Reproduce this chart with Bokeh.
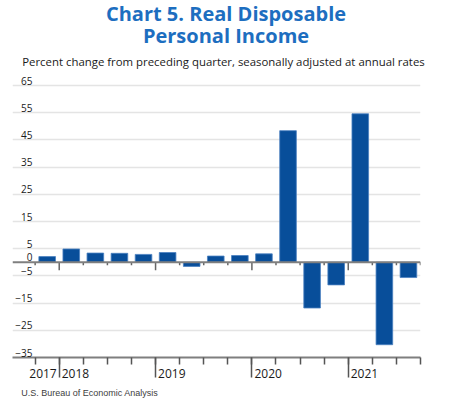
from bokeh.plotting import figure
from bokeh.models import Range1d, FixedTicker, ColumnDataSource, Grid, Span
from bokeh.embed import file_html
from bokeh.resources import INLINE
from bokeh.core.properties import value

# ---- data ----
quarters = ["2017 Q4",
            "2018 Q1", "2018 Q2", "2018 Q3", "2018 Q4",
            "2019 Q1", "2019 Q2", "2019 Q3", "2019 Q4",
            "2020 Q1", "2020 Q2", "2020 Q3", "2020 Q4",
            "2021 Q1", "2021 Q2", "2021 Q3"]
values = [2.1, 4.9, 3.4, 3.3, 2.9, 3.6, -1.5, 2.3, 2.5, 3.1,
          48.4, -16.8, -8.3, 54.6, -30.3, -5.6]
years = ["2017", "2018", "2019", "2020", "2021"]
quarters_in_year = [1, 4, 4, 4, 3]
y_ticks = [65, 55, 45, 35, 25, 15, 5, 0, -5, -15, -25, -35]
y_tick_labels = ["65", "55", "45", "35", "25", "15", "5", "0",
                 "\u22125", "\u221215", "\u221225", "\u221235"]
grid_ticks = [65, 55, 45, 35, 25, 15, 5, -5, -15, -25]
title_lines = ["Chart 5. Real Disposable", "Personal Income"]
subtitle = "Percent change from preceding quarter, seasonally adjusted at annual rates"
source_note = "U.S. Bureau of Economic Analysis"

# ---- derived positions ----
n = len(quarters)
bar_x = [i + 0.5 for i in range(n)]
starts = [sum(quarters_in_year[:k]) for k in range(len(years))]
boundaries = list(range(n + 1))
major_bounds = starts[1:]

X0, X1 = -0.94, n
Y0, Y1 = -35, 68.68

p = figure(width=451, height=400, x_range=Range1d(X0, X1), y_range=Range1d(Y0, Y1),
           output_backend="svg", toolbar_location=None, y_axis_location=None,
           min_border_left=12, min_border_right=31, min_border_top=75, min_border_bottom=43)
p.outline_line_color = None
p.grid.visible = False
p.background_fill_color = "white"
p.border_fill_color = "white"

grid = Grid(dimension=1, ticker=FixedTicker(ticks=grid_ticks),
            grid_line_color="#e4e4e4", grid_line_width=1.5)
p.add_layout(grid, "center")

src = ColumnDataSource(dict(x=bar_x, top=values, q=quarters))
p.vbar(x="x", top="top", bottom=0, width=0.69, source=src,
       fill_color="#084E9A", line_color="#4a80c0", line_width=0.8)

p.add_layout(Span(location=0, dimension="width", line_color="#7f7f7f", line_width=2))

# ticks on zero line
tick_len = [2.94 if b in major_bounds else 1.1 for b in boundaries]
p.segment(x0=boundaries, y0=[0] * len(boundaries), x1=boundaries,
          y1=[-t for t in tick_len], line_color="#666666", line_width=1.5)

# bottom axis
ax = p.xaxis[0]
ax.ticker = FixedTicker(ticks=major_bounds, minor_ticks=boundaries)
ax.major_tick_in = 0
ax.major_tick_out = 20
ax.minor_tick_in = 0
ax.minor_tick_out = 7
ax.axis_line_color = "#7f7f7f"
ax.axis_line_width = 2
ax.major_tick_line_color = "#555555"
ax.major_tick_line_width = 1.5
ax.minor_tick_line_color = "#555555"
ax.minor_tick_line_width = 1.5
ax.major_label_overrides = {b: "" for b in major_bounds}
ax.major_label_standoff = 0
ax.major_label_text_font_size = "8px"

# y labels
ysrc = ColumnDataSource(dict(x=[X0] * len(y_ticks), y=y_ticks, t=y_tick_labels))
p.text(x="x", y="y", text="t", source=ysrc, x_offset=20, y_offset=-5,
       text_align="right", text_baseline="alphabetic", text_font=value("Open Sans"),
       text_font_size="10px", text_color="#1a1a1a", level="overlay")

# year labels
yr_x = [starts[1]] + starts[1:]
yr_align = ["right"] + ["left"] * (len(years) - 1)
yr_off = [-2.5] + [2.5] * (len(years) - 1)
yrsrc = ColumnDataSource(dict(x=yr_x, y=[Y0] * len(years), t=years, a=yr_align, o=yr_off))
p.text(x="x", y="y", text="t", source=yrsrc, x_offset="o", y_offset=15.8,
       text_align="a", text_baseline="alphabetic", text_font=value("Open Sans"),
       text_font_size="12px", text_color="#1a1a1a", level="overlay")

# title & subtitle & source
tsrc = ColumnDataSource(dict(x=[X0, X0], y=[Y1, Y1], t=title_lines, o=[-62.0, -40.5]))
p.text(x="x", y="y", text="t", source=tsrc, x_offset=213.5, y_offset="o",
       text_align="center", text_baseline="alphabetic", text_font=value("Open Sans"),
       text_font_style="bold", text_font_size="20px", text_color="#1D6EC0", level="overlay")

p.text(x=[X0], y=[Y1], text=[subtitle], x_offset=9.7, y_offset=-14.0,
       text_align="left", text_baseline="alphabetic", text_font=value("Open Sans"),
       text_font_size="11.4px", text_color="#1a1a1a", level="overlay")

p.text(x=[X0], y=[Y0], text=[source_note], x_offset=8.7, y_offset=35.3,
       text_align="left", text_baseline="alphabetic", text_font=value("Liberation Sans"),
       text_font_size="9px", text_color="#404040", level="overlay")

open("out.html", "w").write(file_html(p, INLINE))
